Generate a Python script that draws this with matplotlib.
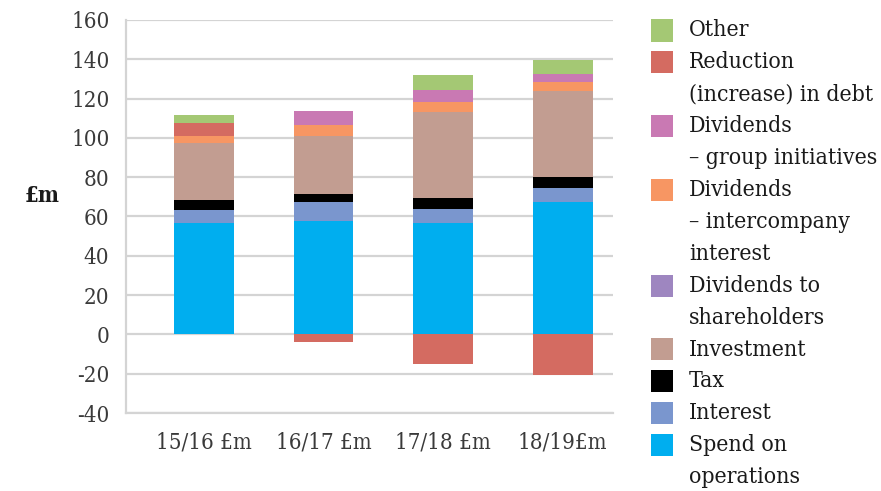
import numpy as np
import matplotlib
matplotlib.use("Agg")
import matplotlib.pyplot as plt
from matplotlib.patches import Rectangle

plt.rcParams['font.family'] = ['DejaVu Serif']
plt.rcParams['font.stretch'] = 'condensed'

years = ["15/16 £m", "16/17 £m", "17/18 £m", "18/19£m"]

# Stack order, bottom to top
series_names = [
    "Spend on\noperations",
    "Interest",
    "Tax",
    "Investment",
    "Dividends to\nshareholders",
    "Dividends\n– intercompany\ninterest",
    "Dividends\n– group initiatives",
    "Reduction\n(increase) in debt",
    "Other",
]
spend_on_operations = [56.5, 57.5, 56.5, 67.5]
interest = [7.0, 10.0, 7.5, 7.0]
tax = [5.0, 4.0, 5.5, 5.5]
investment = [29.0, 29.5, 43.5, 44.0]
dividends_shareholders = [0.0, 0.0, 0.0, 0.0]
dividends_intercompany = [3.5, 5.5, 5.5, 4.5]
dividends_group = [0.0, 7.0, 6.0, 4.0]
reduction_in_debt = [6.5, -4.0, -15.0, -20.5]
other = [4.0, 0.0, 7.5, 7.0]

series_values = [spend_on_operations, interest, tax, investment,
                 dividends_shareholders, dividends_intercompany,
                 dividends_group, reduction_in_debt, other]
colors = ["#00AEEF", "#7A96CE", "#000000", "#C29D91", "#9E86C0",
          "#F79663", "#C979B3", "#D46B61", "#A4C874"]

yticks = [-40, -20, 0, 20, 40, 60, 80, 100, 120, 140, 160]

W, H = 881, 491
fig = plt.figure(figsize=(W / 100, H / 100), dpi=100)
ax = fig.add_axes([126 / W, 1 - 413 / H, (613 - 126) / W, (413 - 20) / H])

x = np.arange(len(years))
pos_base = np.zeros(len(years))
neg_base = np.zeros(len(years))
for vals, col in zip(series_values, colors):
    v = np.array(vals, dtype=float)
    bottoms = np.where(v >= 0, pos_base, neg_base)
    ax.bar(x, v, bottom=bottoms, width=0.5, color=col, edgecolor="none", zorder=3)
    pos_base = pos_base + np.where(v >= 0, v, 0)
    neg_base = neg_base + np.where(v < 0, v, 0)

ax.set_ylim(-40, 160)
ax.set_xlim(-0.65, 3.42)
ax.set_yticks(yticks)
ax.set_yticklabels([str(t) for t in yticks])
ax.set_xticks(x)
ax.set_xticklabels(years)
ax.tick_params(axis="both", length=0, labelsize=16, colors="#3a3a3a")
ax.tick_params(axis="y", pad=12)
ax.tick_params(axis="x", pad=13)
ax.grid(axis="y", color="#d4d4d4", linewidth=1.6, zorder=0)
for side in ["top", "right"]:
    ax.spines[side].set_visible(False)
for side in ["left", "bottom"]:
    ax.spines[side].set_color("#d4d4d4")
    ax.spines[side].set_linewidth(1.6)

fig.text(25 / W, 1 - 196 / H, "£m", fontsize=16, color="#1a1a1a",
         fontweight="bold", va="center", ha="left")

# Legend drawn beside the plot, top entry first
line_h = 31.9
y = 30.5
for name, col in zip(series_names[::-1], colors[::-1]):
    lines = name.split("\n")
    fig.patches.append(Rectangle((651 / W, 1 - (y + 11) / H), 22 / W, 22 / H,
                                 transform=fig.transFigure, facecolor=col,
                                 edgecolor="none"))
    for ln in lines:
        fig.text(689 / W, 1 - y / H, ln, fontsize=16.5, color="#1a1a1a",
                 va="center", ha="left")
        y += line_h

fig.savefig("out.png", dpi=100, facecolor="white")
